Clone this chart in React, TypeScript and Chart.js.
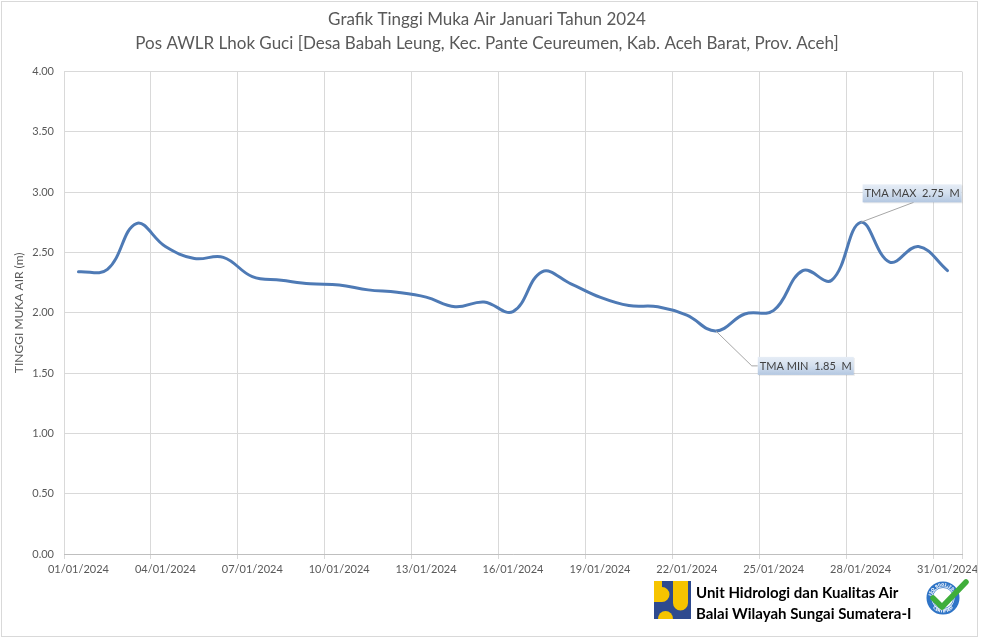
import React, { useEffect, useRef } from 'react';
import { Chart, registerables } from 'chart.js';

Chart.register(...registerables);

const titleLines = [
  'Grafik Tinggi Muka Air Januari Tahun 2024',
  'Pos AWLR Lhok Guci [Desa Babah Leung, Kec. Pante Ceureumen, Kab. Aceh Barat, Prov. Aceh]',
];

const dateLabels = [
  '01/01/2024', '02/01/2024', '03/01/2024', '04/01/2024', '05/01/2024', '06/01/2024',
  '07/01/2024', '08/01/2024', '09/01/2024', '10/01/2024', '11/01/2024', '12/01/2024',
  '13/01/2024', '14/01/2024', '15/01/2024', '16/01/2024', '17/01/2024', '18/01/2024',
  '19/01/2024', '20/01/2024', '21/01/2024', '22/01/2024', '23/01/2024', '24/01/2024',
  '25/01/2024', '26/01/2024', '27/01/2024', '28/01/2024', '29/01/2024', '30/01/2024',
  '31/01/2024',
];

const waterLevel = [
  2.34, 2.36, 2.74, 2.55, 2.45, 2.46, 2.30, 2.27, 2.24, 2.23, 2.19, 2.17,
  2.13, 2.05, 2.09, 2.01, 2.34, 2.24, 2.13, 2.06, 2.05, 1.98, 1.85, 1.99,
  2.02, 2.35, 2.27, 2.75, 2.42, 2.55, 2.35,
];

const yAxisTitle = 'TINGGI MUKA AIR (m)';
const maxLabel = 'TMA MAX';
const minLabel = 'TMA MIN';
const unitLabel = 'M';
const footerLines = ['Unit Hidrologi dan Kualitas Air', 'Balai Wilayah Sungai Sumatera-I'];
const badgeTop = 'ISO 9001:2008';
const badgeBottom = 'CERTIFIED';

const FONT = 'Lato, "Open Sans", sans-serif';
const TEXT = '#595959';
const GRID = '#d9d9d9';

const calloutPlugin = {
  id: 'callouts',
  afterDatasetsDraw(chart: any) {
    const meta = chart.getDatasetMeta(0);
    const data = chart.data.datasets[0].data as number[];
    const maxI = data.indexOf(Math.max(...data));
    const minI = data.indexOf(Math.min(...data));
    const ctx = chart.ctx as CanvasRenderingContext2D;

    const drawBox = (x: number, y: number, w: number, h: number, text: string) => {
      ctx.save();
      ctx.fillStyle = 'rgba(0,0,0,0.08)';
      ctx.fillRect(x + 1, y + 1, w, h);
      const g = ctx.createLinearGradient(0, y, 0, y + h);
      g.addColorStop(0, '#e6edf6');
      g.addColorStop(0.5, '#d3dfee');
      g.addColorStop(1, '#b3c7e1');
      ctx.fillStyle = g;
      ctx.fillRect(x, y, w, h);
      ctx.fillStyle = '#404040';
      ctx.font = `11px ${FONT}`;
      ctx.textAlign = 'center';
      ctx.textBaseline = 'middle';
      ctx.fillText(text, x + w / 2, y + h / 2 + 0.5);
      ctx.restore();
    };

    const pMax = meta.data[maxI];
    const pMin = meta.data[minI];

    ctx.save();
    ctx.strokeStyle = '#a6a6a6';
    ctx.lineWidth = 1;
    ctx.beginPath();
    ctx.moveTo(pMax.x, pMax.y);
    ctx.lineTo(pMax.x + 53, pMax.y - 20);
    ctx.stroke();
    ctx.beginPath();
    ctx.moveTo(pMin.x, pMin.y);
    ctx.lineTo(pMin.x + 36, pMin.y + 35);
    ctx.lineTo(pMin.x + 42, pMin.y + 35);
    ctx.stroke();
    ctx.restore();

    drawBox(pMax.x + 2, pMax.y - 38, 99, 18, `${maxLabel}  ${data[maxI].toFixed(2)}  ${unitLabel}`);
    drawBox(pMin.x + 42, pMin.y + 26, 96, 18, `${minLabel}  ${data[minI].toFixed(2)}  ${unitLabel}`);
  },
};

export default function App() {
  const canvasRef = useRef<HTMLCanvasElement | null>(null);

  useEffect(() => {
    if (!canvasRef.current) return;
    const chart = new Chart(canvasRef.current, {
      type: 'line',
      data: {
        labels: dateLabels,
        datasets: [
          {
            data: waterLevel,
            borderColor: '#4e7ab5',
            borderWidth: 3,
            pointRadius: 0,
            tension: 0.4,
            fill: false,
            borderCapStyle: 'round',
            borderJoinStyle: 'round',
          },
        ],
      },
      options: {
        responsive: false,
        animation: false,
        layout: { padding: { left: 0, right: 10, top: 0, bottom: 0 } },
        plugins: {
          legend: { display: false },
          tooltip: { enabled: false },
          title: {
            display: true,
            text: titleLines,
            color: TEXT,
            font: { family: FONT, size: 17, weight: 'normal', lineHeight: 1.4 },
            padding: { top: 8, bottom: 16 },
          },
        },
        scales: {
          x: {
            type: 'category',
            offset: true,
            grid: {
              offset: true,
              color: (c: any) => (c.index === undefined || c.index % 3 === 0 ? GRID : 'rgba(0,0,0,0)'),
              tickLength: 5,
            },
            border: { color: '#bfbfbf' },
            ticks: {
              autoSkip: false,
              maxRotation: 0,
              minRotation: 0,
              padding: 4,
              color: TEXT,
              font: { family: FONT, size: 11 },
              callback: (_v: any, i: number) => (i % 3 === 0 ? dateLabels[i] : ''),
            },
            afterFit: (s: any) => {
              s.height = 84;
            },
          },
          y: {
            min: 0,
            max: 4,
            grid: { color: GRID, drawTicks: false },
            border: { display: false },
            ticks: {
              stepSize: 0.5,
              padding: 10,
              color: TEXT,
              font: { family: FONT, size: 11 },
              callback: (v: any) => Number(v).toFixed(2),
            },
            title: {
              display: true,
              text: yAxisTitle,
              color: TEXT,
              font: { family: FONT, size: 12 },
              padding: { top: 12, bottom: 0 },
            },
            afterFit: (s: any) => {
              s.width = 64;
            },
          },
          ySpacer: {
            position: 'right',
            display: true,
            grid: { display: false, drawTicks: false },
            border: { display: false },
            ticks: { display: false },
            afterFit: (s: any) => {
              s.width = 12;
            },
          },
        },
      },
      plugins: [calloutPlugin],
    } as any);
    return () => chart.destroy();
  }, []);

  return (
    <div style={{ position: 'absolute', left: 0, top: 0, width: 984, height: 638, background: '#fff' }}>
      <canvas ref={canvasRef} width={984} height={638} style={{ display: 'block' }} />
      <div
        style={{
          position: 'absolute',
          left: 1,
          top: 1,
          width: 977,
          height: 636,
          border: '1px solid #d9d9d9',
          boxSizing: 'border-box',
          pointerEvents: 'none',
        }}
      />
      <svg style={{ position: 'absolute', left: 654, top: 581 }} width={37} height={38} viewBox="0 0 37 38">
        <rect x={0} y={0} width={37} height={38} fill="#2e4a8f" />
        <path d="M0,0 H8 V6 A7.5,7.5 0 0 1 8,21 H0 Z" fill="#f6c400" />
        <path d="M19,0 H34 V22 A7.5,7.5 0 0 1 19,22 Z" fill="#f6c400" />
        <path d="M4,38 A7.5,8 0 0 1 19,38 Z" fill="#f6c400" />
      </svg>
      <div
        style={{
          position: 'absolute',
          left: 696,
          top: 582,
          fontFamily: FONT,
          fontWeight: 'bold',
          fontSize: 15,
          lineHeight: '21px',
          color: '#000',
          whiteSpace: 'nowrap',
        }}
      >
        <div>{footerLines[0]}</div>
        <div>{footerLines[1]}</div>
      </div>
      <svg style={{ position: 'absolute', left: 922, top: 576 }} width={48} height={44} viewBox="0 0 48 44">
        <defs>
          <path id="arcTop" d="M9,22 A12,12 0 0 1 33,22" />
          <path id="arcBot" d="M7.5,23 A13.5,13.5 0 0 0 34.5,23" />
        </defs>
        <circle cx={21} cy={22} r={14} fill="#fff" stroke="#2f74c6" strokeWidth={5} />
        <circle cx={21} cy={22} r={10.5} fill="none" stroke="#2f74c6" strokeWidth={0.8} />
        <text fontSize={4} fill="#fff" fontFamily="DejaVu Sans" fontWeight="bold">
          <textPath href="#arcTop" startOffset="50%" textAnchor="middle">{badgeTop}</textPath>
        </text>
        <text fontSize={4} fill="#fff" fontFamily="DejaVu Sans" fontWeight="bold">
          <textPath href="#arcBot" startOffset="50%" textAnchor="middle" dy={2.5}>{badgeBottom}</textPath>
        </text>
        <path d="M11,22 L20,31 L44,6" fill="none" stroke="#3fae3a" strokeWidth={5.5} strokeLinecap="round" strokeLinejoin="round" />
      </svg>
    </div>
  );
}
